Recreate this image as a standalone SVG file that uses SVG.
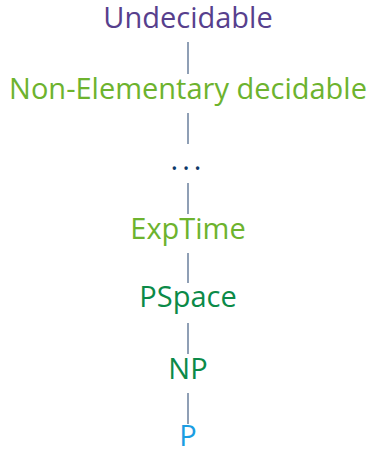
<svg xmlns="http://www.w3.org/2000/svg" width="370" height="449" viewBox="0 0 370 449">
<style>
text{font-family:"Open Sans","Noto Sans",sans-serif;font-size:29px;text-anchor:middle}
.e line{stroke:#6a7f9c;stroke-width:1.5}
</style>
<rect width="370" height="449" fill="#fff"/>
<g class="e" id="edges">
<line x1="188" y1="42" x2="188" y2="74"/>
<line x1="188" y1="113" x2="188" y2="144"/>
<line x1="188" y1="183" x2="188" y2="214"/>
<line x1="188" y1="253" x2="188" y2="283"/>
<line x1="188" y1="323" x2="188" y2="354"/>
<line x1="188" y1="393" x2="188" y2="424"/>
</g>
<g id="undecidable"><text x="188" y="28" fill="#573f8d">Undecidable</text></g>
<g id="nonelementary"><text x="188" y="99" fill="#6db32e">Non-Elementary decidable</text></g>
<g id="dots"><text x="188" y="170" fill="#0d3868" letter-spacing="4">...</text></g>
<g id="exptime"><text x="188" y="239" fill="#6db32e">ExpTime</text></g>
<g id="pspace"><text x="188" y="307" fill="#0b8a48">PSpace</text></g>
<g id="np"><text x="188" y="379" fill="#0b8a48">NP</text></g>
<g id="p"><text x="188" y="446" fill="#1b9de2">P</text></g>
</svg>
